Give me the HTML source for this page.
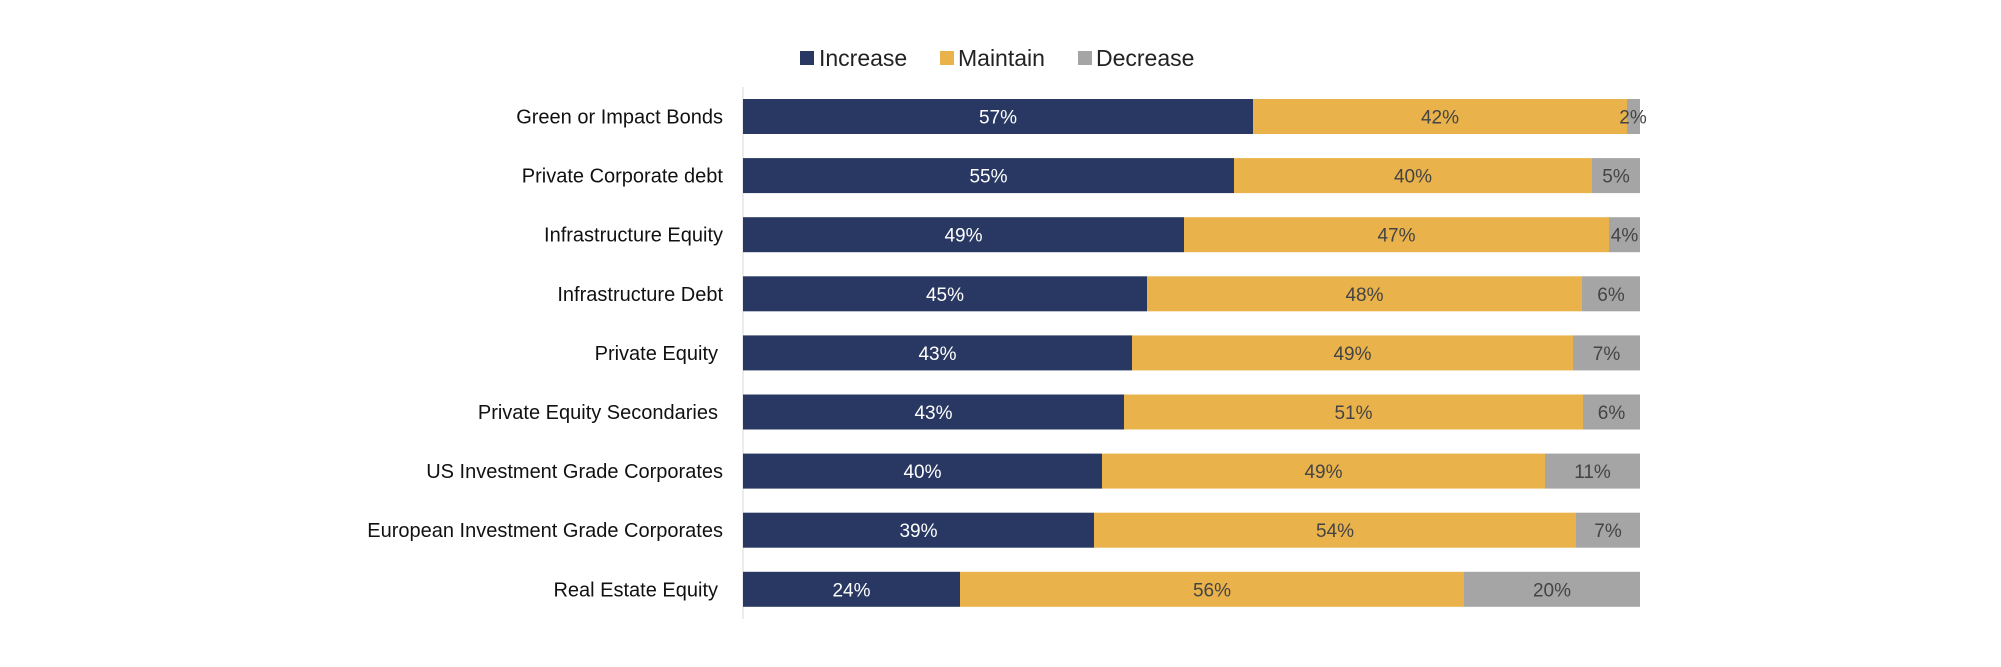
<!DOCTYPE html>
<html><head><meta charset="utf-8"><style>
html,body{margin:0;padding:0;background:#fff;}
svg{display:block;font-family:"Liberation Sans",sans-serif;}
.l{font-size:20px;fill:#111;text-anchor:end}
.w{font-size:19px;fill:#fff;text-anchor:middle}
.g{font-size:19px;fill:#444;text-anchor:middle}
.i{fill:#283862}.m{fill:#e9b24b}.d{fill:#a5a5a5}
</style></head><body>
<svg width="2001" height="667" viewBox="0 0 2001 667">
<line x1="743" y1="87" x2="743" y2="619" stroke="#d9d9d9" stroke-width="1"/>
<g font-size="23" fill="#222">
<rect x="800" y="51" width="14" height="14" fill="#283862"/><text x="819" y="66">Increase</text>
<rect x="940" y="51" width="14" height="14" fill="#e9b24b"/><text x="958" y="66">Maintain</text>
<rect x="1078" y="51" width="14" height="14" fill="#a5a5a5"/><text x="1096" y="66">Decrease</text>
</g>

<rect class="i" x="743" y="99" width="510" height="35"/><rect class="m" x="1253" y="99" width="374" height="35"/><rect class="d" x="1627" y="99" width="13" height="35"/>
<text class="l" x="723" y="123.5">Green or Impact Bonds</text><text class="w" x="998" y="123.5">57%</text><text class="g" x="1440" y="123.5">42%</text><text class="g" x="1633" y="123.5">2%</text>

<rect class="i" x="743" y="158.1" width="491" height="35"/><rect class="m" x="1234" y="158.1" width="358" height="35"/><rect class="d" x="1592" y="158.1" width="48" height="35"/>
<text class="l" x="723" y="182.6">Private Corporate debt</text><text class="w" x="988.5" y="182.6">55%</text><text class="g" x="1413" y="182.6">40%</text><text class="g" x="1616" y="182.6">5%</text>

<rect class="i" x="743" y="217.2" width="441" height="35"/><rect class="m" x="1184" y="217.2" width="425" height="35"/><rect class="d" x="1609" y="217.2" width="31" height="35"/>
<text class="l" x="723" y="241.7">Infrastructure Equity</text><text class="w" x="963.5" y="241.7">49%</text><text class="g" x="1396.5" y="241.7">47%</text><text class="g" x="1624.5" y="241.7">4%</text>

<rect class="i" x="743" y="276.3" width="404" height="35"/><rect class="m" x="1147" y="276.3" width="435" height="35"/><rect class="d" x="1582" y="276.3" width="58" height="35"/>
<text class="l" x="723" y="300.8">Infrastructure Debt</text><text class="w" x="945" y="300.8">45%</text><text class="g" x="1364.5" y="300.8">48%</text><text class="g" x="1611" y="300.8">6%</text>

<rect class="i" x="743" y="335.4" width="389" height="35"/><rect class="m" x="1132" y="335.4" width="441" height="35"/><rect class="d" x="1573" y="335.4" width="67" height="35"/>
<text class="l" x="718" y="359.9">Private Equity</text><text class="w" x="937.5" y="359.9">43%</text><text class="g" x="1352.5" y="359.9">49%</text><text class="g" x="1606.5" y="359.9">7%</text>

<rect class="i" x="743" y="394.5" width="381" height="35"/><rect class="m" x="1124" y="394.5" width="459" height="35"/><rect class="d" x="1583" y="394.5" width="57" height="35"/>
<text class="l" x="718" y="419">Private Equity Secondaries</text><text class="w" x="933.5" y="419">43%</text><text class="g" x="1353.5" y="419">51%</text><text class="g" x="1611.5" y="419">6%</text>

<rect class="i" x="743" y="453.6" width="359" height="35"/><rect class="m" x="1102" y="453.6" width="443" height="35"/><rect class="d" x="1545" y="453.6" width="95" height="35"/>
<text class="l" x="723" y="478.1">US Investment Grade Corporates</text><text class="w" x="922.5" y="478.1">40%</text><text class="g" x="1323.5" y="478.1">49%</text><text class="g" x="1592.5" y="478.1">11%</text>

<rect class="i" x="743" y="512.7" width="351" height="35"/><rect class="m" x="1094" y="512.7" width="482" height="35"/><rect class="d" x="1576" y="512.7" width="64" height="35"/>
<text class="l" x="723" y="537.2">European Investment Grade Corporates</text><text class="w" x="918.5" y="537.2">39%</text><text class="g" x="1335" y="537.2">54%</text><text class="g" x="1608" y="537.2">7%</text>

<rect class="i" x="743" y="571.8" width="217" height="35"/><rect class="m" x="960" y="571.8" width="504" height="35"/><rect class="d" x="1464" y="571.8" width="176" height="35"/>
<text class="l" x="718" y="596.3">Real Estate Equity</text><text class="w" x="851.5" y="596.3">24%</text><text class="g" x="1212" y="596.3">56%</text><text class="g" x="1552" y="596.3">20%</text>
</svg>
</body></html>
